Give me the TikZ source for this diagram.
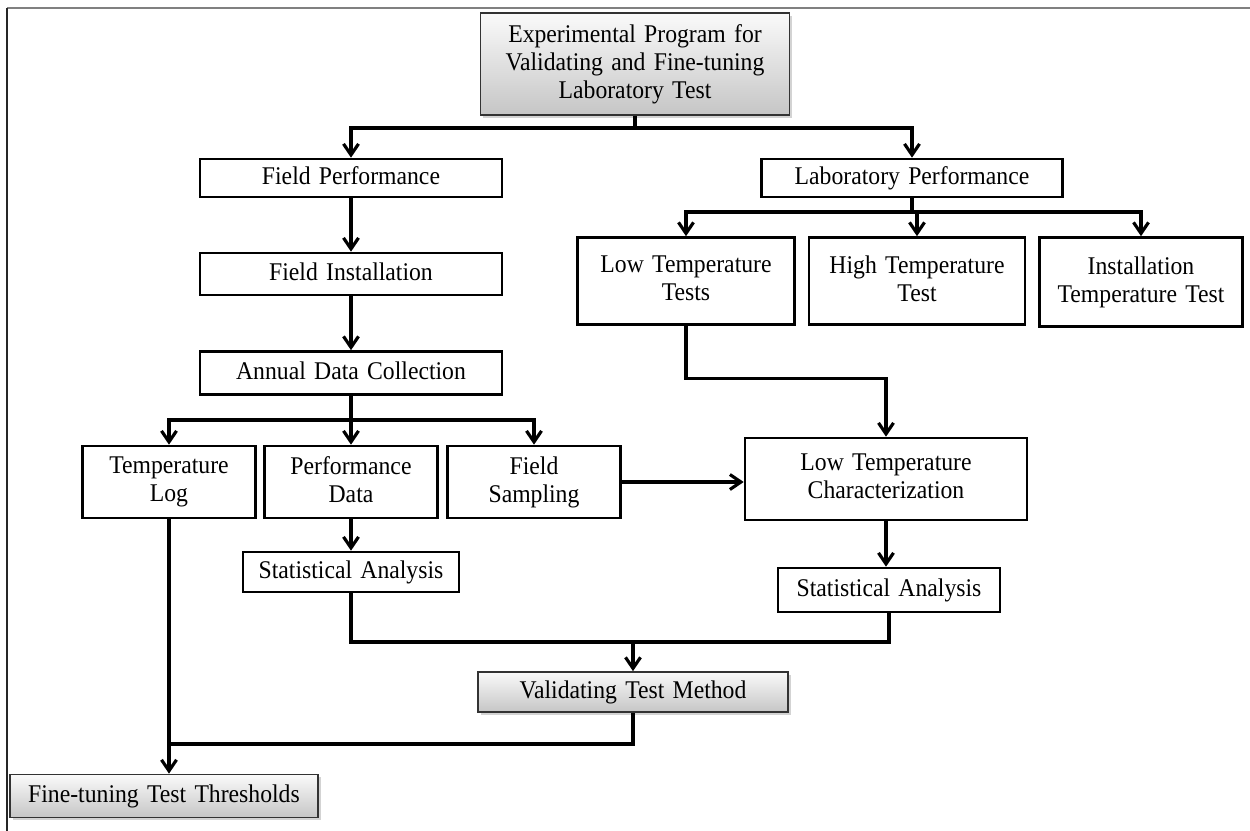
\documentclass[tikz,border=0pt]{standalone}
\usepackage{fontspec}
\setmainfont[FakeStretch=0.93,WordSpace=1.4]{Liberation Serif}
\usetikzlibrary{arrows.meta,shadows}
\begin{document}
\begin{tikzpicture}[x=.02cm,y=-.02cm,>={Straight Barb[length=2.2mm,width=3mm]},
  box/.style={draw,line width=1.5pt,align=center,inner sep=2pt,text depth=.3em,font=\fontsize{14.5}{16}\selectfont},
  shadebox/.style={box,draw=black!80,line width=1pt,top color=gray!4,bottom color=gray!45,
    drop shadow={shadow xshift=1.5pt,shadow yshift=-1.5pt,opacity=.35}},
  link/.style={line width=1.8pt}]
\useasboundingbox (0,0) rectangle (1250,831);
\draw[gray,line width=1.6pt](7,8)--(1250,8);
\draw[black!85,line width=1pt](7,8)--(7,831);
\node[shadebox,minimum width=6.18cm,minimum height=2.04cm] (top) at (635,64) {Experimental Program for\\Validating and Fine-tuning\\Laboratory Test};
\node[box,minimum width=6.04cm,minimum height=.76cm] (fieldperf) at (351,178) {Field Performance};
\node[box,minimum width=6.02cm,minimum height=.76cm] (labperf) at (912,178) {Laboratory Performance};
\node[box,minimum width=6.04cm,minimum height=.84cm] (fieldinst) at (351,274) {Field Installation};
\node[box,minimum width=6.04cm,minimum height=.86cm] (annual) at (351,373) {Annual Data Collection};
\node[box,minimum width=3.46cm,minimum height=1.44cm] (templog) at (169,482) {Temperature\\Log};
\node[box,minimum width=3.46cm,minimum height=1.44cm] (perfdata) at (351,482) {Performance\\Data};
\node[box,minimum width=3.46cm,minimum height=1.44cm] (fieldsamp) at (534,482) {Field\\Sampling};
\node[box,minimum width=4.34cm,minimum height=1.74cm] (lowtests) at (686,281) {Low Temperature\\Tests};
\node[box,minimum width=4.32cm,minimum height=1.74cm] (hightest) at (917,281) {High Temperature\\Test};
\node[box,minimum width=4.06cm,minimum height=1.78cm] (insttest) at (1141,282) {Installation\\Temperature Test};
\node[box,minimum width=5.64cm,minimum height=1.64cm] (lowchar) at (886,479) {Low Temperature\\Characterization};
\node[box,minimum width=4.32cm,minimum height=.8cm] (statleft) at (351,572) {Statistical Analysis};
\node[box,minimum width=4.44cm,minimum height=.88cm] (statright) at (889,590) {Statistical Analysis};
\node[shadebox,minimum width=6.2cm,minimum height=.8cm] (validate) at (633,692) {Validating Test Method};
\node[shadebox,minimum width=6.16cm,minimum height=.86cm] (finetune) at (164,796) {Fine-tuning Test Thresholds};
\coordinate (j1) at (635,128);
\coordinate (j2) at (351,420);
\coordinate (j3) at (912,212);
\coordinate (j4) at (633,642);
\coordinate (j5) at (169,744);
\draw[link](top.south)--(j1);
\draw[link,->](j1)-|(fieldperf.north);
\draw[link,->](j1)-|(labperf.north);
\draw[link,->](fieldperf)--(fieldinst);
\draw[link,->](fieldinst)--(annual);
\draw[link](annual.south)--(j2);
\draw[link,->](j2)-|(templog.north);
\draw[link,->](j2)--(perfdata.north);
\draw[link,->](j2)-|(fieldsamp.north);
\draw[link](labperf.south)--(j3);
\draw[link,->](j3)-|(lowtests.north);
\draw[link,->](j3)-|(hightest.north);
\draw[link,->](j3)-|(insttest.north);
\draw[link,->](lowtests.south)--++(0,53)-|(lowchar.north);
\draw[link,->](fieldsamp.east)--(fieldsamp.east-|lowchar.west);
\draw[link,->](perfdata)--(statleft);
\draw[link,->](lowchar.south)--(lowchar.south|-statright.north);
\draw[link](statleft.south)|-(j4)-|(statright.south);
\draw[link,->](j4)--(validate.north);
\draw[link](validate.south)|-(j5);
\draw[link,->](templog.south)--(templog.south|-finetune.north);
\end{tikzpicture}
\end{document}
